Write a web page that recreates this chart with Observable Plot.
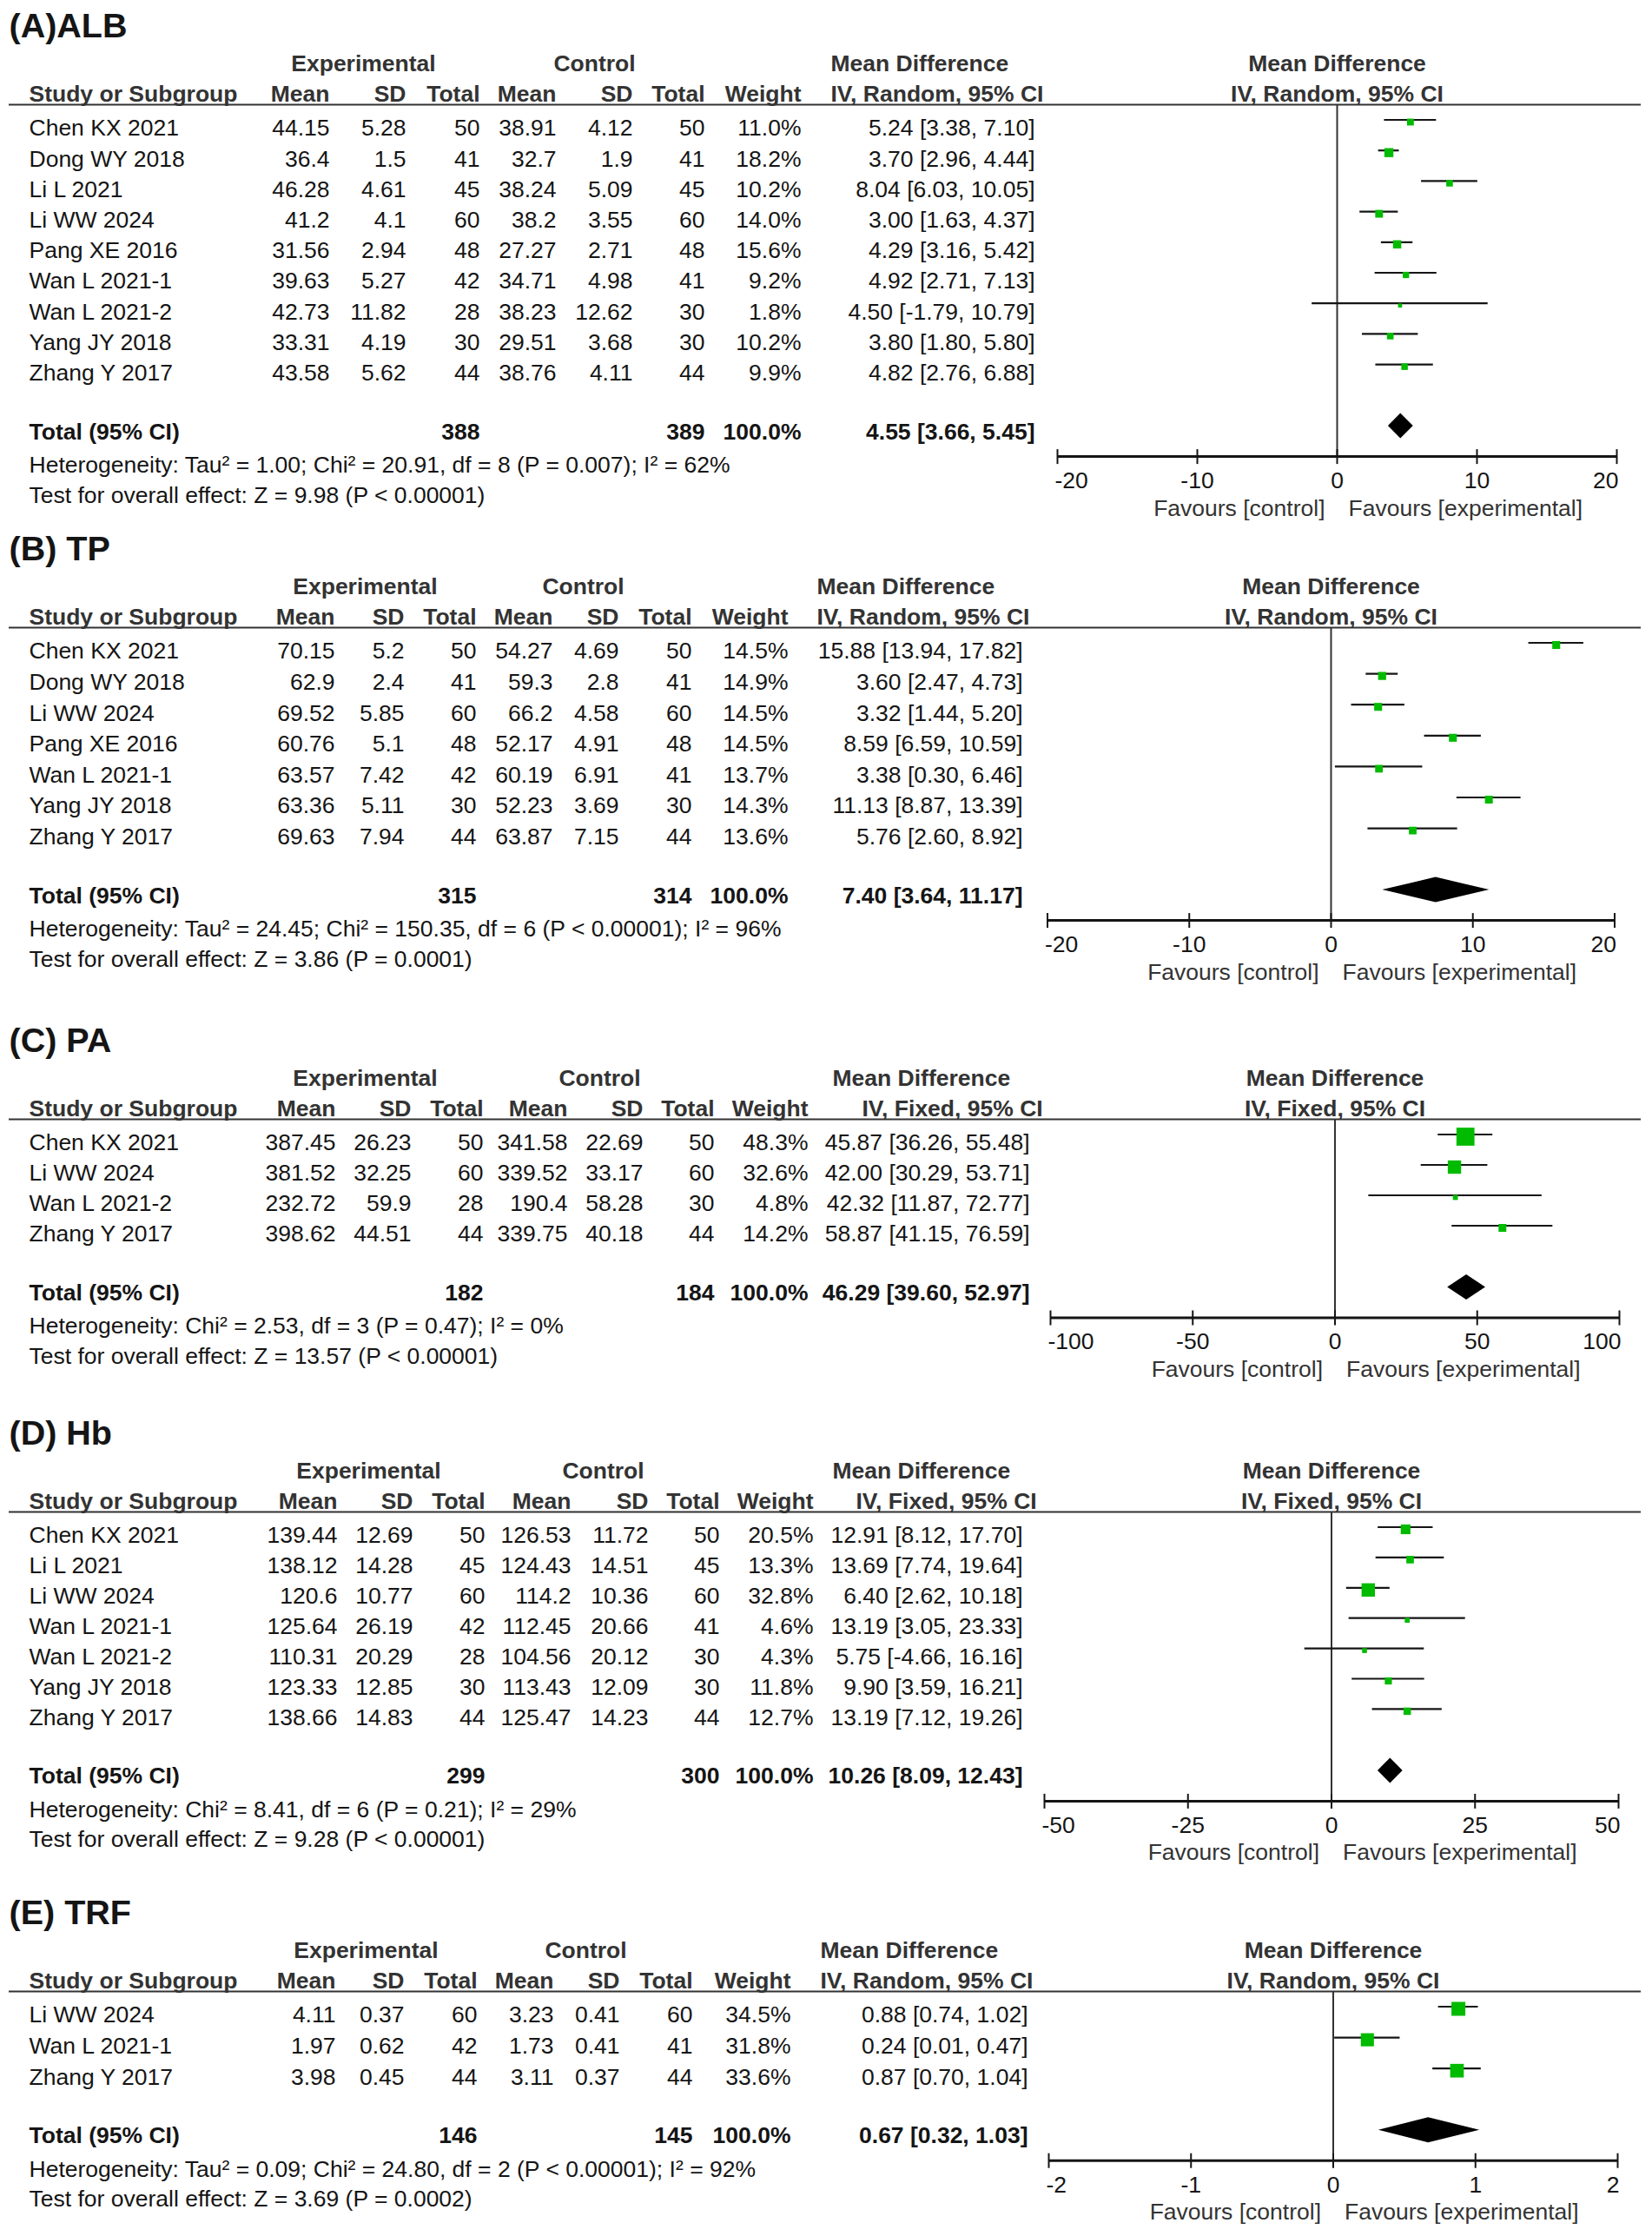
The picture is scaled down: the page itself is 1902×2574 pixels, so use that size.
<!DOCTYPE html>
<html><head><meta charset="utf-8">
<script src="https://cdn.jsdelivr.net/npm/d3@7"></script>
<script src="https://cdn.jsdelivr.net/npm/@observablehq/plot@0.6"></script>
<style>
body{margin:0;background:#fff}
#chart{width:1902px;background:#fff}
#chart svg{display:block}
</style>
</head><body><div id="chart"></div>
<script>
// ================= DATA =================
const titles = ["(A)ALB", "(B) TP", "(C) PA", "(D) Hb", "(E) TRF"];
const models = ["IV, Random, 95% CI", "IV, Random, 95% CI", "IV, Fixed, 95% CI", "IV, Fixed, 95% CI", "IV, Random, 95% CI"];
const favours = ["Favours [control]", "Favours [experimental]"];

// (A) ALB
const studiesA = ["Chen KX 2021", "Dong WY 2018", "Li L 2021", "Li WW 2024", "Pang XE 2016", "Wan L 2021-1", "Wan L 2021-2", "Yang JY 2018", "Zhang Y 2017"];
const expMeanA = ["44.15", "36.4", "46.28", "41.2", "31.56", "39.63", "42.73", "33.31", "43.58"];
const expSDA = ["5.28", "1.5", "4.61", "4.1", "2.94", "5.27", "11.82", "4.19", "5.62"];
const expNA = [50, 41, 45, 60, 48, 42, 28, 30, 44];
const ctlMeanA = ["38.91", "32.7", "38.24", "38.2", "27.27", "34.71", "38.23", "29.51", "38.76"];
const ctlSDA = ["4.12", "1.9", "5.09", "3.55", "2.71", "4.98", "12.62", "3.68", "4.11"];
const ctlNA = [50, 41, 45, 60, 48, 41, 30, 30, 44];
const weightA = [11.0, 18.2, 10.2, 14.0, 15.6, 9.2, 1.8, 10.2, 9.9];
const mdA = [5.24, 3.70, 8.04, 3.00, 4.29, 4.92, 4.50, 3.80, 4.82];
const loA = [3.38, 2.96, 6.03, 1.63, 3.16, 2.71, -1.79, 1.80, 2.76];
const hiA = [7.10, 4.44, 10.05, 4.37, 5.42, 7.13, 10.79, 5.80, 6.88];
const totalA = [388, 389, 4.55, 3.66, 5.45];
const hetA = "Heterogeneity: Tau² = 1.00; Chi² = 20.91, df = 8 (P = 0.007); I² = 62%";
const testA = "Test for overall effect: Z = 9.98 (P < 0.00001)";
const ticksA = [-20, -10, 0, 10, 20];

// (B) TP
const studiesB = ["Chen KX 2021", "Dong WY 2018", "Li WW 2024", "Pang XE 2016", "Wan L 2021-1", "Yang JY 2018", "Zhang Y 2017"];
const expMeanB = ["70.15", "62.9", "69.52", "60.76", "63.57", "63.36", "69.63"];
const expSDB = ["5.2", "2.4", "5.85", "5.1", "7.42", "5.11", "7.94"];
const expNB = [50, 41, 60, 48, 42, 30, 44];
const ctlMeanB = ["54.27", "59.3", "66.2", "52.17", "60.19", "52.23", "63.87"];
const ctlSDB = ["4.69", "2.8", "4.58", "4.91", "6.91", "3.69", "7.15"];
const ctlNB = [50, 41, 60, 48, 41, 30, 44];
const weightB = [14.5, 14.9, 14.5, 14.5, 13.7, 14.3, 13.6];
const mdB = [15.88, 3.60, 3.32, 8.59, 3.38, 11.13, 5.76];
const loB = [13.94, 2.47, 1.44, 6.59, 0.30, 8.87, 2.60];
const hiB = [17.82, 4.73, 5.20, 10.59, 6.46, 13.39, 8.92];
const totalB = [315, 314, 7.40, 3.64, 11.17];
const hetB = "Heterogeneity: Tau² = 24.45; Chi² = 150.35, df = 6 (P < 0.00001); I² = 96%";
const testB = "Test for overall effect: Z = 3.86 (P = 0.0001)";
const ticksB = [-20, -10, 0, 10, 20];

// (C) PA
const studiesC = ["Chen KX 2021", "Li WW 2024", "Wan L 2021-2", "Zhang Y 2017"];
const expMeanC = ["387.45", "381.52", "232.72", "398.62"];
const expSDC = ["26.23", "32.25", "59.9", "44.51"];
const expNC = [50, 60, 28, 44];
const ctlMeanC = ["341.58", "339.52", "190.4", "339.75"];
const ctlSDC = ["22.69", "33.17", "58.28", "40.18"];
const ctlNC = [50, 60, 30, 44];
const weightC = [48.3, 32.6, 4.8, 14.2];
const mdC = [45.87, 42.00, 42.32, 58.87];
const loC = [36.26, 30.29, 11.87, 41.15];
const hiC = [55.48, 53.71, 72.77, 76.59];
const totalC = [182, 184, 46.29, 39.60, 52.97];
const hetC = "Heterogeneity: Chi² = 2.53, df = 3 (P = 0.47); I² = 0%";
const testC = "Test for overall effect: Z = 13.57 (P < 0.00001)";
const ticksC = [-100, -50, 0, 50, 100];

// (D) Hb
const studiesD = ["Chen KX 2021", "Li L 2021", "Li WW 2024", "Wan L 2021-1", "Wan L 2021-2", "Yang JY 2018", "Zhang Y 2017"];
const expMeanD = ["139.44", "138.12", "120.6", "125.64", "110.31", "123.33", "138.66"];
const expSDD = ["12.69", "14.28", "10.77", "26.19", "20.29", "12.85", "14.83"];
const expND = [50, 45, 60, 42, 28, 30, 44];
const ctlMeanD = ["126.53", "124.43", "114.2", "112.45", "104.56", "113.43", "125.47"];
const ctlSDD = ["11.72", "14.51", "10.36", "20.66", "20.12", "12.09", "14.23"];
const ctlND = [50, 45, 60, 41, 30, 30, 44];
const weightD = [20.5, 13.3, 32.8, 4.6, 4.3, 11.8, 12.7];
const mdD = [12.91, 13.69, 6.40, 13.19, 5.75, 9.90, 13.19];
const loD = [8.12, 7.74, 2.62, 3.05, -4.66, 3.59, 7.12];
const hiD = [17.70, 19.64, 10.18, 23.33, 16.16, 16.21, 19.26];
const totalD = [299, 300, 10.26, 8.09, 12.43];
const hetD = "Heterogeneity: Chi² = 8.41, df = 6 (P = 0.21); I² = 29%";
const testD = "Test for overall effect: Z = 9.28 (P < 0.00001)";
const ticksD = [-50, -25, 0, 25, 50];

// (E) TRF
const studiesE = ["Li WW 2024", "Wan L 2021-1", "Zhang Y 2017"];
const expMeanE = ["4.11", "1.97", "3.98"];
const expSDE = ["0.37", "0.62", "0.45"];
const expNE = [60, 42, 44];
const ctlMeanE = ["3.23", "1.73", "3.11"];
const ctlSDE = ["0.41", "0.41", "0.37"];
const ctlNE = [60, 41, 44];
const weightE = [34.5, 31.8, 33.6];
const mdE = [0.88, 0.24, 0.87];
const loE = [0.74, 0.01, 0.70];
const hiE = [1.02, 0.47, 1.04];
const totalE = [146, 145, 0.67, 0.32, 1.03];
const hetE = "Heterogeneity: Tau² = 0.09; Chi² = 24.80, df = 2 (P < 0.00001); I² = 92%";
const testE = "Test for overall effect: Z = 3.69 (P = 0.0002)";
const ticksE = [-2, -1, 0, 1, 2];

// ================= BUILD PANEL TABLES =================
function makePanel(k, studies, expMean, expSD, expN, ctlMean, ctlSD, ctlN, weight, md, lo, hi, total, het, test, ticks) {
  return {
    title: titles[k], model: models[k], het, test, ticks, total,
    rows: studies.map((s, i) => ({
      i, study: s, em: expMean[i], esd: expSD[i], en: expN[i],
      cm: ctlMean[i], csd: ctlSD[i], cn: ctlN[i],
      w: weight[i], md: md[i], lo: lo[i], hi: hi[i]
    }))
  };
}
const panels = [
  makePanel(0, studiesA, expMeanA, expSDA, expNA, ctlMeanA, ctlSDA, ctlNA, weightA, mdA, loA, hiA, totalA, hetA, testA, ticksA),
  makePanel(1, studiesB, expMeanB, expSDB, expNB, ctlMeanB, ctlSDB, ctlNB, weightB, mdB, loB, hiB, totalB, hetB, testB, ticksB),
  makePanel(2, studiesC, expMeanC, expSDC, expNC, ctlMeanC, ctlSDC, ctlNC, weightC, mdC, loC, hiC, totalC, hetC, testC, ticksC),
  makePanel(3, studiesD, expMeanD, expSDD, expND, ctlMeanD, ctlSDD, ctlND, weightD, mdD, loD, hiD, totalD, hetD, testD, ticksD),
  makePanel(4, studiesE, expMeanE, expSDE, expNE, ctlMeanE, ctlSDE, ctlNE, weightE, mdE, loE, hiE, totalE, hetE, testE, ticksE)
];

// ================= LAYOUT (styles) =================
const layouts = [
  {h: 602, step: 35.2, xr: [1217, 1861], cols: [379, 467, 552, 640, 728, 811, 922, 1191], expC: 418, ctlC: 684, mdL: 956, ivL: 956},
  {h: 566, step: 35.6, xr: [1205.5, 1858.5], cols: [385, 465, 548, 636, 712, 796, 907, 1177], expC: 420, ctlC: 671, mdL: 940, ivL: 940},
  {h: 452, step: 35.0, xr: [1209, 1864], cols: [386, 473, 556, 653, 740, 822, 930, 1185], expC: 420, ctlC: 690, mdL: 958, ivL: 992},
  {h: 552, step: 34.9, xr: [1202, 1863], cols: [388, 475, 558, 657, 746, 828, 936, 1177], expC: 424, ctlC: 694, mdL: 958, ivL: 985},
  {h: 402, step: 35.6, xr: [1207, 1862], cols: [386, 465, 549, 637, 713, 797, 910, 1183], expC: 421, ctlC: 674, mdL: 944, ivL: 944}
];
const FONT = "'Liberation Sans', Arial, Helvetica, sans-serif";
const FS = 26.5;
const ML = 10, MR = 13, ROW0 = 147.5, LINE = 120, STUDY_X = 33;
const GREEN = "#00bb00", INK = "#151515", HEAD = "#333333";
const f2 = v => v.toFixed(2);
const ciText = (m, l, h) => `${f2(m)} [${f2(l)}, ${f2(h)}]`;

function panelPlot(p, L) {
  const n = p.rows.length, S = L.step;
  const u = px => (px - ROW0) / S;               // panel pixel offset -> row units
  const yTitle = u(30), yH1 = u(73), yH2 = u(108), yLine = u(LINE);
  const yTotal = n - 1 + 67.5 / S;
  const yHet = yTotal + 38.5 / S, yTest = yHet + 34.5 / S;
  const yAxis = yTotal + 28.5 / S, yTick = yAxis + 28 / S, yFav = yAxis + 59.5 / S;
  const nt = p.ticks.length;
  const dom = [p.ticks[0], p.ticks[nt - 1]];

  const body = {fontSize: FS, fill: INK};
  const bold = {fontSize: FS, fill: INK, fontWeight: "bold"};
  const head = {fontSize: FS, fill: HEAD, fontWeight: "bold"};
  const cell = (txt, px, y, anchor, st) =>
    Plot.text([txt], {frameAnchor: "left", dx: px - ML, y: () => y, text: d => d, textAnchor: anchor, ...st});
  const col = (fn, px, anchor = "end") =>
    Plot.text(p.rows, {frameAnchor: "left", dx: px - ML, y: "i", text: fn, textAnchor: anchor, ...body});
  const C = L.cols;
  const [tExpN, tCtlN, tMd, tLo, tHi] = p.total;

  const yd = yTotal - 6.5 / S, hd = 14.5 / S;
  const diamond = [
    {y: yd - hd, x1: tMd, x2: tMd},
    {y: yd, x1: tLo, x2: tHi},
    {y: yd + hd, x1: tMd, x2: tMd}
  ];

  return Plot.plot({
    width: 1902, height: L.h,
    marginLeft: ML, marginRight: MR, marginTop: 0, marginBottom: 0,
    x: {domain: dom, range: L.xr, axis: null},
    y: {domain: [0, 1], range: [ROW0, ROW0 + S], axis: null},
    // square side ≈ 4.1px + 0.345px per % weight (r = side / sqrt(pi))
    r: {type: "linear", domain: [0, 100], range: [2.313, 21.78]},
    style: {fontFamily: FONT, background: "#fff", overflow: "visible"},
    marks: [
      // title
      cell(p.title, 10, yTitle, "start", {fontSize: 39.5, fontWeight: "bold", fill: INK}),
      // header row 1
      cell("Experimental", L.expC, yH1, "middle", head),
      cell("Control", L.ctlC, yH1, "middle", head),
      cell("Mean Difference", L.mdL, yH1, "start", head),
      // header row 2
      cell("Study or Subgroup", STUDY_X, yH2, "start", head),
      cell("Mean", C[0], yH2, "end", head),
      cell("SD", C[1], yH2, "end", head),
      cell("Total", C[2], yH2, "end", head),
      cell("Mean", C[3], yH2, "end", head),
      cell("SD", C[4], yH2, "end", head),
      cell("Total", C[5], yH2, "end", head),
      cell("Weight", C[6], yH2, "end", head),
      cell(p.model, L.ivL, yH2, "start", head),
      // forest headers
      Plot.text(["Mean Difference"], {x: 0, y: () => yH1, text: d => d, textAnchor: "middle", ...head}),
      Plot.text([p.model], {x: 0, y: () => yH2, text: d => d, textAnchor: "middle", ...head}),
      // header line
      Plot.ruleY([yLine], {y: d => d, stroke: HEAD, strokeWidth: 2}),
      // study rows
      col("study", STUDY_X, "start"),
      col("em", C[0]), col("esd", C[1]), col("en", C[2]),
      col("cm", C[3]), col("csd", C[4]), col("cn", C[5]),
      col(d => d.w.toFixed(1) + "%", C[6]),
      col(d => ciText(d.md, d.lo, d.hi), C[7]),
      // total row
      cell("Total (95% CI)", STUDY_X, yTotal, "start", bold),
      cell(String(tExpN), C[2], yTotal, "end", bold),
      cell(String(tCtlN), C[5], yTotal, "end", bold),
      cell("100.0%", C[6], yTotal, "end", bold),
      cell(ciText(tMd, tLo, tHi), C[7], yTotal, "end", bold),
      cell(p.het, STUDY_X, yHet, "start", body),
      cell(p.test, STUDY_X, yTest, "start", body),
      // forest: zero line
      Plot.ruleX([0], {x: d => d, y1: yLine, y2: yAxis, stroke: "#333", strokeWidth: 2}),
      // CI lines and squares
      Plot.ruleY(p.rows, {y: d => d.i - 10 / S, x1: "lo", x2: "hi", stroke: INK, strokeWidth: 2.2}),
      Plot.dot(p.rows, {x: "md", y: d => d.i - 7.5 / S, r: "w", symbol: "square", fill: GREEN, stroke: "none"}),
      // pooled diamond
      Plot.areaX(diamond, {y: "y", x1: "x1", x2: "x2", fill: "#000", curve: "linear"}),
      // x axis
      Plot.ruleY([yAxis], {y: d => d, x1: dom[0], x2: dom[1], stroke: INK, strokeWidth: 3}),
      Plot.ruleX(p.ticks, {x: d => d, y1: yAxis - 8 / S, y2: yAxis + 9 / S, stroke: INK, strokeWidth: 2}),
      Plot.text(p.ticks.slice(1, nt - 1), {x: d => d, y: () => yTick, text: d => String(d), textAnchor: "middle", ...body}),
      Plot.text([p.ticks[0]], {x: d => d, y: () => yTick, dx: -3, text: d => String(d), textAnchor: "start", ...body}),
      Plot.text([p.ticks[nt - 1]], {x: d => d, y: () => yTick, dx: 2, text: d => String(d), textAnchor: "end", ...body}),
      Plot.text([favours[0]], {x: 0, y: () => yFav, dx: -14, text: d => d, textAnchor: "end", fontSize: FS, fill: HEAD}),
      Plot.text([favours[1]], {x: 0, y: () => yFav, dx: 13, text: d => d, textAnchor: "start", fontSize: FS, fill: HEAD})
    ]
  });
}

const root = document.getElementById("chart");
panels.forEach((p, k) => root.appendChild(panelPlot(p, layouts[k])));
</script>
</body></html>
